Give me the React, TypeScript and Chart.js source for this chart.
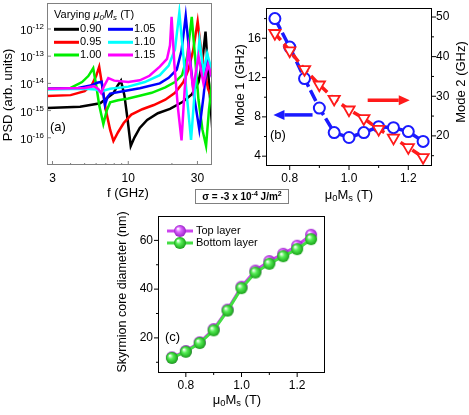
import React, { useEffect, useRef } from "react";
import { Chart, registerables } from "chart.js";
Chart.register(...registerables);

const FAM = "'Liberation Sans', Arial, Helvetica, sans-serif";

// ---------------- Panel (a): PSD spectra ----------------
const psdLegendLabels = ["0.90", "0.95", "1.00", "1.05", "1.10", "1.15"];
const freqTicks = [3, 10, 30];
const freqMinorTicks = [4, 5, 6, 7, 8, 9, 20];
const psdTickExponents = [-12, -13, -14, -15, -16];

const freq090 = [2.75, 4.65, 6.4, 7.9, 8.4, 8.9, 9.4, 9.9, 10.4, 11.0, 12.0, 13.5, 16, 19.4, 23.8, 27.5, 30.5, 32.5, 34.1, 35.5, 38];
const psd090 = [1.25e-15, 1.38e-15, 1.86e-15, 4.4e-15, 7.9e-15, 1.26e-14, 3.7e-15, 4.5e-16, 5e-17, 1e-16, 2.3e-16, 4.5e-16, 8e-16, 1.15e-15, 2.1e-15, 4e-15, 1.1e-14, 7.2e-14, 8e-13, 3e-14, 2e-16];

const freq095 = [2.75, 4.0, 5.0, 5.6, 6.0, 6.3, 6.6, 7.0, 7.5, 7.9, 8.5, 9.3, 10.5, 12.5, 15, 18, 21, 24, 26, 28, 30.1, 31.5, 33.5, 35.5, 38];
const psd095 = [3.4e-15, 3.7e-15, 5.2e-15, 8.7e-15, 1.86e-14, 4.1e-14, 8.7e-15, 1.05e-15, 1.95e-16, 7.6e-17, 1.6e-16, 3.5e-16, 7.1e-16, 1.12e-15, 1.6e-15, 2.5e-15, 4.5e-15, 1.12e-14, 3.2e-14, 1.6e-13, 1.9e-12, 2.5e-13, 3.2e-14, 6.3e-15, 2.5e-15];

const freq100 = [2.75, 4.0, 4.8, 5.3, 5.73, 6.0, 6.3, 6.73, 7.1, 7.5, 8.5, 10, 12, 14.5, 18, 21, 23.5, 25.5, 27.4, 29, 30.5, 32.5, 34.4, 36, 38];
const psd100 = [6.3e-15, 6.8e-15, 1.12e-14, 1.86e-14, 3.6e-14, 8.7e-15, 1.6e-15, 3.2e-16, 1e-15, 2e-15, 2.4e-15, 2.8e-15, 3.5e-15, 4.5e-15, 7.1e-15, 1.12e-14, 2e-14, 1e-13, 2.8e-12, 7.2e-14, 2.5e-15, 1.95e-16, 5e-17, 1.05e-15, 1.26e-14];

const freq105 = [2.75, 4.5, 5.5, 6.1, 6.55, 6.9, 7.2, 7.5, 9, 12, 16.5, 19, 21.6, 23.3, 24.9, 26.5, 28.5, 30.9, 33, 35, 38];
const psd105 = [6.3e-15, 6.8e-15, 8.3e-15, 1.05e-14, 1.15e-14, 1.6e-15, 3.2e-15, 4.2e-15, 5e-15, 6.6e-15, 1e-14, 1.6e-14, 3.2e-14, 1.6e-13, 3e-12, 1e-13, 3.2e-15, 2e-16, 3.2e-15, 6.3e-14, 1.6e-14];

const freq110 = [2.75, 5, 6.0, 6.5, 6.9, 7.5, 10, 13, 16.5, 19, 21, 22.5, 24, 25.5, 27.1, 29, 31, 33, 35, 38];
const psd110 = [6e-15, 6.3e-15, 6e-15, 4.8e-15, 5.6e-15, 6.3e-15, 7.6e-15, 1.12e-14, 2e-14, 4.5e-14, 1.8e-13, 4e-12, 1e-13, 2.5e-15, 8.3e-17, 1e-14, 4e-13, 2.5e-14, 1.26e-13, 2.5e-14];

const freq115 = [2.75, 5.0, 5.8, 6.2, 6.5, 6.8, 7.28, 8, 10, 12, 14, 16.5, 18.5, 19.4, 19.9, 20.8, 22.0, 23.3, 24.5, 26, 28, 30.5, 33, 35.5, 38];
const psd115 = [6.3e-15, 6.8e-15, 7.9e-15, 6.3e-15, 4.4e-15, 7.9e-15, 1.55e-14, 1.26e-14, 1.12e-14, 1.3e-14, 1.9e-14, 4.1e-14, 7.9e-14, 2.5e-13, 2.8e-12, 5e-14, 1.26e-15, 8e-17, 6.3e-15, 2e-13, 6.3e-15, 1e-13, 1e-14, 5e-14, 1.6e-14];

const psdFreqs = [freq090, freq095, freq100, freq105, freq110, freq115];
const psdValues = [psd090, psd095, psd100, psd105, psd110, psd115];
const psdColors = ["#000000", "#ff0000", "#00ee00", "#0000ff", "#00ffff", "#ff00ff"];

// ---------------- Panel (b): mode frequencies ----------------
const msValues = [0.75, 0.8, 0.85, 0.9, 0.95, 1.0, 1.05, 1.1, 1.15, 1.2, 1.25];
const mode1GHz = [18.0, 15.1, 11.9, 8.9, 6.4, 5.9, 6.4, 7.0, 6.9, 6.5, 5.5];
const mode2GHz = [45.9, 41.5, 36.8, 32.9, 29.3, 26.6, 24.4, 21.7, 19.5, 17.1, 14.6];
const msTicks = [0.8, 1.0, 1.2];
const msMinorTicks = [0.9, 1.1];
const mode1Ticks = [4, 8, 12, 16];
const mode1MinorTicks = [6, 10, 14, 18];
const mode2Ticks = [20, 30, 40, 50];
const mode2MinorTicks = [15, 25, 35, 45];
const mode1Arrow = [0.877, 8.2, 0.745, 8.2]; // from (x,y) to (x,y) on left axis
const mode2Arrow = [1.063, 29.0, 1.205, 29.0]; // from (x,y) to (x,y) on right axis

// ---------------- Panel (c): skyrmion diameter ----------------
const diameterTop = [12.0, 14.6, 18.2, 23.6, 31.6, 41.0, 47.6, 51.5, 54.5, 57.8, 62.3];
const diameterBottom = [11.8, 14.3, 17.9, 23.1, 31.2, 40.4, 46.8, 50.4, 53.5, 56.4, 60.5];
const diameterTicks = [20, 40, 60];
const diameterMinorTicks = [10, 30, 50];
const diameterLegend = ["Top layer", "Bottom layer"];

type Seg = { t: string; sub?: boolean; sup?: boolean; it?: boolean; bold?: boolean };

function fontOf(size: number, it?: boolean, bold?: boolean) {
  return `${it ? "italic " : ""}${bold ? "bold " : ""}${size}px ${FAM}`;
}

function drawRich(ctx: CanvasRenderingContext2D, segs: Seg[], x: number, y: number, size: number, align = "center", rot = 0, color = "#000") {
  ctx.save();
  ctx.translate(x, y);
  ctx.rotate(rot);
  ctx.fillStyle = color;
  ctx.textBaseline = "middle";
  ctx.textAlign = "left";
  const parts = segs.map((s) => {
    const fs = s.sub || s.sup ? size * 0.72 : size;
    const font = fontOf(fs, s.it, s.bold);
    ctx.font = font;
    return { s, font, w: ctx.measureText(s.t).width };
  });
  const total = parts.reduce((a, p) => a + p.w, 0);
  let cx = align === "center" ? -total / 2 : align === "right" ? -total : 0;
  for (const p of parts) {
    ctx.font = p.font;
    const dy = p.s.sub ? size * 0.3 : p.s.sup ? -size * 0.38 : 0;
    ctx.fillText(p.s.t, cx, dy);
    cx += p.w;
  }
  ctx.restore();
}

function drawTicks(ctx: CanvasRenderingContext2D, chart: any, scaleId: string, values: number[], len: number, outward: boolean, side: string) {
  const sc = chart.scales[scaleId];
  const a = chart.chartArea;
  ctx.beginPath();
  for (const v of values) {
    if (v < sc.min || v > sc.max) continue;
    const p = sc.getPixelForValue(v);
    if (side === "bottom") {
      const d = outward ? len : -len;
      ctx.moveTo(p, a.bottom);
      ctx.lineTo(p, a.bottom + d);
    } else if (side === "left") {
      const d = outward ? -len : len;
      ctx.moveTo(a.left, p);
      ctx.lineTo(a.left + d, p);
    } else {
      const d = outward ? len : -len;
      ctx.moveTo(a.right, p);
      ctx.lineTo(a.right + d, p);
    }
  }
  ctx.stroke();
}

function drawFrame(ctx: CanvasRenderingContext2D, chart: any, color: string) {
  const a = chart.chartArea;
  ctx.save();
  ctx.strokeStyle = color;
  ctx.lineWidth = 1;
  ctx.strokeRect(Math.round(a.left) + 0.5, Math.round(a.top) + 0.5, Math.round(a.right - a.left) - 1, Math.round(a.bottom - a.top) - 1);
  ctx.restore();
}

function drawArrow(ctx: CanvasRenderingContext2D, x1: number, y1: number, x2: number, y2: number, color: string) {
  const ang = Math.atan2(y2 - y1, x2 - x1);
  const head = 11;
  const hw = 5;
  const bx = x2 - head * Math.cos(ang);
  const by = y2 - head * Math.sin(ang);
  ctx.save();
  ctx.strokeStyle = color;
  ctx.fillStyle = color;
  ctx.lineWidth = 3.5;
  ctx.beginPath();
  ctx.moveTo(x1, y1);
  ctx.lineTo(bx, by);
  ctx.stroke();
  ctx.beginPath();
  ctx.moveTo(x2, y2);
  ctx.lineTo(bx + hw * Math.sin(ang), by - hw * Math.cos(ang));
  ctx.lineTo(bx - hw * Math.sin(ang), by + hw * Math.cos(ang));
  ctx.closePath();
  ctx.fill();
  ctx.restore();
}

function makeSphere(base: string, dark: string, r: number) {
  const c = document.createElement("canvas");
  const d = Math.ceil(r * 2 + 2);
  c.width = d;
  c.height = d;
  const g = c.getContext("2d")!;
  const cx = d / 2;
  const cy = d / 2;
  const grad = g.createRadialGradient(cx - r * 0.35, cy - r * 0.4, r * 0.05, cx, cy, r);
  grad.addColorStop(0, "#ffffff");
  grad.addColorStop(0.4, base);
  grad.addColorStop(1, dark);
  g.fillStyle = grad;
  g.beginPath();
  g.arc(cx, cy, r, 0, Math.PI * 2);
  g.fill();
  return c;
}

const noGrid = { display: false, drawTicks: false };
const noBorder = { display: false };

const msTitle: Seg[] = [{ t: "\u03bc" }, { t: "0", sub: true }, { t: "M" }, { t: "s", sub: true }, { t: " (T)" }];

export default function App() {
  const aRef = useRef<HTMLCanvasElement>(null);
  const bRef = useRef<HTMLCanvasElement>(null);
  const cRef = useRef<HTMLCanvasElement>(null);

  useEffect(() => {
    // ---------- Chart A ----------
    const A = { x: 0, y: 0, w: 232, h: 205, l: 47, t: 3, r: 212, b: 165 };
    const chartA = new Chart(aRef.current!, {
      type: "line",
      data: {
        datasets: psdFreqs.map((fs, i) => ({
          label: psdLegendLabels[i],
          data: fs.map((f, j) => ({ x: f, y: psdValues[i][j] })),
          borderColor: psdColors[i],
          borderWidth: 2.5,
          pointRadius: 0,
          tension: 0,
          fill: false,
          order: 6 - i,
        })),
      },
      options: {
        animation: false,
        responsive: false,
        maintainAspectRatio: false,
        layout: { padding: { left: 0, top: A.t, right: A.w - A.r, bottom: 0 } },
        plugins: { legend: { display: false }, tooltip: { enabled: false } },
        scales: {
          x: {
            type: "logarithmic",
            min: 2.75,
            max: 37.8,
            grid: noGrid,
            border: noBorder,
            afterBuildTicks: (s: any) => {
              s.ticks = freqTicks.map((v) => ({ value: v }));
            },
            afterFit: (s: any) => {
              s.height = A.h - A.b;
              s.paddingLeft = 0;
              s.paddingRight = 0;
            },
            ticks: { autoSkip: false, maxRotation: 0, padding: 6, color: "#000", font: { family: FAM, size: 12 }, callback: (v: any) => String(v) },
          },
          y: {
            type: "logarithmic",
            min: 1e-17,
            max: 9e-12,
            grid: noGrid,
            border: noBorder,
            ticks: { display: false },
            afterFit: (s: any) => {
              s.width = A.l;
              s.paddingTop = 0;
              s.paddingBottom = 0;
            },
          },
        },
      } as any,
      plugins: [
        {
          id: "decorA",
          afterDraw(chart: any) {
            const ctx = chart.ctx;
            ctx.save();
            drawFrame(ctx, chart, "#808080");
            ctx.strokeStyle = "#808080";
            ctx.lineWidth = 1;
            drawTicks(ctx, chart, "x", freqTicks, 4, false, "bottom");
            drawTicks(ctx, chart, "x", freqMinorTicks, 2, false, "bottom");
            drawTicks(ctx, chart, "y", psdTickExponents.map((e) => Math.pow(10, e)), 4, false, "left");
            const ys = chart.scales.y;
            for (const e of psdTickExponents) {
              drawRich(ctx, [{ t: "10" }, { t: String(e), sup: true }], A.l - 3, ys.getPixelForValue(Math.pow(10, e)) + 2, 11, "right");
            }
            drawRich(ctx, [{ t: "PSD (arb. units)" }], 8, 95, 13, "center", -Math.PI / 2);
            drawRich(ctx, [{ t: "f (GHz)" }], 128, 193, 13, "center");
            drawRich(ctx, [{ t: "(a)" }], 50, 127, 13, "left");
            // legend
            drawRich(ctx, [{ t: "Varying " }, { t: "\u03bc", it: true }, { t: "0", sub: true, it: true }, { t: "M", it: true }, { t: "s", sub: true, it: true }, { t: " (T)" }], 54, 15, 11, "left");
            const rowsY = [29.3, 42.3, 55];
            psdLegendLabels.forEach((lab, i) => {
              const col = Math.floor(i / 3);
              const row = i % 3;
              const x0 = col === 0 ? 54 : 108;
              const y0 = rowsY[row];
              ctx.strokeStyle = psdColors[i];
              ctx.lineWidth = 3;
              ctx.beginPath();
              ctx.moveTo(x0, y0);
              ctx.lineTo(x0 + 25, y0);
              ctx.stroke();
              drawRich(ctx, [{ t: lab }], x0 + 26, y0, 11, "left");
            });
            ctx.restore();
          },
        },
      ],
    });

    // ---------- Chart B ----------
    const B = { x: 232, y: 0, w: 237, h: 205, l: 266 - 232, t: 3, r: 432 - 232, b: 166 };
    const chartB = new Chart(bRef.current!, {
      type: "line",
      data: {
        labels: msValues,
        datasets: [
          {
            label: "Mode 2",
            data: msValues.map((x, i) => ({ x, y: mode2GHz[i] })),
            yAxisID: "y2",
            borderColor: "#ff1a1a",
            borderWidth: 3.5,
            borderDash: [9, 5],
            pointStyle: "triangle",
            pointRotation: 180,
            pointRadius: 6.5,
            pointBorderWidth: 1.8,
            pointBackgroundColor: "#ffffff",
            pointBorderColor: "#ff1a1a",
            tension: 0,
            order: 0,
          },
          {
            label: "Mode 1",
            data: msValues.map((x, i) => ({ x, y: mode1GHz[i] })),
            yAxisID: "y",
            borderColor: "#1a1aff",
            borderWidth: 3.5,
            borderDash: [12, 4],
            pointStyle: "circle",
            pointRadius: 5.5,
            pointBorderWidth: 2,
            pointBackgroundColor: "#ffffff",
            pointBorderColor: "#1a1aff",
            tension: 0,
            order: 1,
          },
        ],
      },
      options: {
        animation: false,
        responsive: false,
        maintainAspectRatio: false,
        layout: { padding: { left: 0, top: B.t, right: 0, bottom: 0 } },
        plugins: { legend: { display: false }, tooltip: { enabled: false } },
        scales: {
          x: {
            type: "linear",
            min: 0.72,
            max: 1.28,
            grid: noGrid,
            border: noBorder,
            afterBuildTicks: (s: any) => {
              s.ticks = msTicks.map((v) => ({ value: v }));
            },
            afterFit: (s: any) => {
              s.height = B.h - B.b;
              s.paddingLeft = 0;
              s.paddingRight = 0;
            },
            ticks: { autoSkip: false, maxRotation: 0, padding: 5, color: "#000", font: { family: FAM, size: 12 }, callback: (v: any) => Number(v).toFixed(1) },
          },
          y: {
            type: "linear",
            position: "left",
            min: 3,
            max: 19.05,
            grid: noGrid,
            border: noBorder,
            afterBuildTicks: (s: any) => {
              s.ticks = mode1Ticks.map((v) => ({ value: v }));
            },
            afterFit: (s: any) => {
              s.width = B.l;
              s.paddingTop = 0;
              s.paddingBottom = 0;
            },
            ticks: { padding: 5, color: "#000", font: { family: FAM, size: 12 }, callback: (v: any) => String(v) },
          },
          y2: {
            type: "linear",
            position: "right",
            min: 12.4,
            max: 52.2,
            grid: noGrid,
            border: noBorder,
            afterBuildTicks: (s: any) => {
              s.ticks = mode2Ticks.map((v) => ({ value: v }));
            },
            afterFit: (s: any) => {
              s.width = B.w - B.r;
              s.paddingTop = 0;
              s.paddingBottom = 0;
            },
            ticks: { padding: 4, color: "#000", font: { family: FAM, size: 12 }, callback: (v: any) => String(v) },
          },
        },
      } as any,
      plugins: [
        {
          id: "decorB",
          afterDraw(chart: any) {
            const ctx = chart.ctx;
            ctx.save();
            drawFrame(ctx, chart, "#000");
            ctx.strokeStyle = "#000";
            ctx.lineWidth = 1;
            drawTicks(ctx, chart, "x", msTicks, 4, true, "bottom");
            drawTicks(ctx, chart, "x", msMinorTicks, 2, true, "bottom");
            drawTicks(ctx, chart, "y", mode1Ticks, 4, true, "left");
            drawTicks(ctx, chart, "y", mode1MinorTicks, 2, true, "left");
            drawTicks(ctx, chart, "y2", mode2Ticks, 4, true, "right");
            drawTicks(ctx, chart, "y2", mode2MinorTicks, 2, true, "right");
            const sx = chart.scales.x;
            const sy = chart.scales.y;
            const sy2 = chart.scales.y2;
            drawArrow(ctx, sx.getPixelForValue(mode1Arrow[0]), sy.getPixelForValue(mode1Arrow[1]), sx.getPixelForValue(mode1Arrow[2]), sy.getPixelForValue(mode1Arrow[3]), "#1a1aff");
            drawArrow(ctx, sx.getPixelForValue(mode2Arrow[0]), sy2.getPixelForValue(mode2Arrow[1]), sx.getPixelForValue(mode2Arrow[2]), sy2.getPixelForValue(mode2Arrow[3]), "#ff1a1a");
            ctx.translate(-B.x, -B.y);
            drawRich(ctx, [{ t: "Mode 1 (GHz)" }], 240, 85, 13, "center", -Math.PI / 2);
            drawRich(ctx, [{ t: "Mode 2 (GHz)" }], 461, 82, 13, "center", -Math.PI / 2);
            drawRich(ctx, msTitle, 349, 195, 13, "center");
            drawRich(ctx, [{ t: "(b)" }], 270, 135, 13, "left");
            ctx.restore();
          },
        },
      ],
    });

    // ---------- Chart C ----------
    const C = { x: 100, y: 207, w: 250, h: 208, l: 158 - 100, t: 212 - 207, r: 325 - 100, b: 373 - 207 };
    const sphereTop = makeSphere("#dd66ff", "#9a22c8", 6);
    const sphereBottom = makeSphere("#55ee55", "#18a018", 6);
    const chartC = new Chart(cRef.current!, {
      type: "line",
      data: {
        datasets: [
          {
            label: diameterLegend[0],
            data: msValues.map((x, i) => ({ x, y: diameterTop[i] })),
            borderColor: "#cc44ee",
            borderWidth: 3,
            pointStyle: sphereTop,
            pointRadius: 6,
            tension: 0,
            order: 1,
          },
          {
            label: diameterLegend[1],
            data: msValues.map((x, i) => ({ x, y: diameterBottom[i] })),
            borderColor: "#44dd44",
            borderWidth: 3,
            pointStyle: sphereBottom,
            pointRadius: 6,
            tension: 0,
            order: 0,
          },
        ],
      },
      options: {
        animation: false,
        responsive: false,
        maintainAspectRatio: false,
        layout: { padding: { left: 0, top: C.t, right: C.w - C.r, bottom: 0 } },
        plugins: { legend: { display: false }, tooltip: { enabled: false } },
        scales: {
          x: {
            type: "linear",
            min: 0.7,
            max: 1.3,
            grid: noGrid,
            border: noBorder,
            afterBuildTicks: (s: any) => {
              s.ticks = msTicks.map((v) => ({ value: v }));
            },
            afterFit: (s: any) => {
              s.height = C.h - C.b;
              s.paddingLeft = 0;
              s.paddingRight = 0;
            },
            ticks: { autoSkip: false, maxRotation: 0, padding: 5, color: "#000", font: { family: FAM, size: 12 }, callback: (v: any) => Number(v).toFixed(1) },
          },
          y: {
            type: "linear",
            min: 5.6,
            max: 70,
            grid: noGrid,
            border: noBorder,
            afterBuildTicks: (s: any) => {
              s.ticks = diameterTicks.map((v) => ({ value: v }));
            },
            afterFit: (s: any) => {
              s.width = C.l;
              s.paddingTop = 0;
              s.paddingBottom = 0;
            },
            ticks: { padding: 5, color: "#000", font: { family: FAM, size: 12 }, callback: (v: any) => String(v) },
          },
        },
      } as any,
      plugins: [
        {
          id: "decorC",
          afterDraw(chart: any) {
            const ctx = chart.ctx;
            ctx.save();
            drawFrame(ctx, chart, "#000");
            ctx.strokeStyle = "#000";
            ctx.lineWidth = 1;
            drawTicks(ctx, chart, "x", msTicks, 4, true, "bottom");
            drawTicks(ctx, chart, "x", msMinorTicks, 2, true, "bottom");
            drawTicks(ctx, chart, "y", diameterTicks, 4, true, "left");
            drawTicks(ctx, chart, "y", diameterMinorTicks, 2, true, "left");
            ctx.translate(-C.x, -C.y);
            drawRich(ctx, [{ t: "Skyrmion core diameter (nm)" }], 123, 292, 12.5, "center", -Math.PI / 2);
            drawRich(ctx, msTitle, 237, 400, 13, "center");
            drawRich(ctx, [{ t: "(c)" }], 165, 337, 13, "left");
            const legY = [231, 243];
            const legCol = ["#cc44ee", "#44dd44"];
            const legImg = [sphereTop, sphereBottom];
            diameterLegend.forEach((lab, i) => {
              ctx.strokeStyle = legCol[i];
              ctx.lineWidth = 3;
              ctx.beginPath();
              ctx.moveTo(167, legY[i]);
              ctx.lineTo(193, legY[i]);
              ctx.stroke();
              const im = legImg[i];
              ctx.drawImage(im, 180 - im.width / 2, legY[i] - im.height / 2);
              drawRich(ctx, [{ t: lab }], 196, legY[i], 11, "left");
            });
            ctx.restore();
          },
        },
      ],
    });

    return () => {
      chartA.destroy();
      chartB.destroy();
      chartC.destroy();
    };
  }, []);

  return (
    <div style={{ position: "absolute", left: 0, top: 0, width: 469, height: 415, background: "#fff", overflow: "hidden" }}>
      <canvas ref={aRef} width={232} height={205} style={{ position: "absolute", left: 0, top: 0, width: 232, height: 205 }} />
      <canvas ref={bRef} width={237} height={205} style={{ position: "absolute", left: 232, top: 0, width: 237, height: 205 }} />
      <canvas ref={cRef} width={250} height={208} style={{ position: "absolute", left: 100, top: 207, width: 250, height: 208 }} />
      <div
        style={{
          position: "absolute",
          left: 195,
          top: 189,
          width: 94,
          height: 15,
          boxSizing: "border-box",
          border: "1px solid #808080",
          fontFamily: FAM,
          fontWeight: "bold",
          fontSize: 10,
          lineHeight: "13px",
          textAlign: "center",
          whiteSpace: "nowrap",
          color: "#000",
        }}
      >
        {"\u03c3 = -3 x 10"}
        <span style={{ fontSize: 7, position: "relative", top: -4 }}>-4</span>
        {" J/m"}
        <span style={{ fontSize: 7, position: "relative", top: -4 }}>2</span>
      </div>
    </div>
  );
}
